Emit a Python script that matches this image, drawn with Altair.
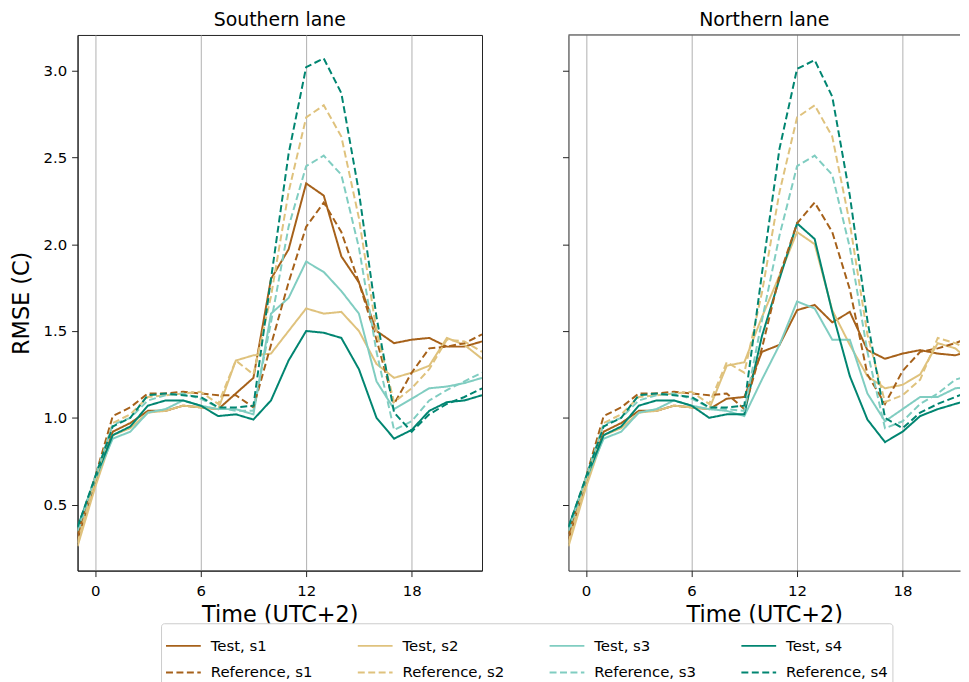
import altair as alt
import pandas as pd

hours = list(range(-1, 23))
lanes = ["Southern lane", "Northern lane"]
series_names = ["Test, s1", "Test, s2", "Test, s3", "Test, s4",
                "Reference, s1", "Reference, s2", "Reference, s3", "Reference, s4"]
palette = ["#a6611a", "#dfc27d", "#80cdc1", "#018571"]

# Southern lane
south_test_s1 = [0.30, 0.62, 0.92, 0.97, 1.04, 1.04, 1.07, 1.06, 1.05, 1.14, 1.23, 1.80, 1.97, 2.35, 2.28, 1.93, 1.78, 1.50, 1.43, 1.45, 1.46, 1.41, 1.41, 1.44]
south_test_s2 = [0.26, 0.60, 0.90, 0.94, 1.03, 1.04, 1.07, 1.06, 1.05, 1.33, 1.36, 1.37, 1.50, 1.63, 1.60, 1.61, 1.50, 1.31, 1.23, 1.26, 1.30, 1.46, 1.42, 1.34]
south_test_s3 = [0.34, 0.64, 0.88, 0.92, 1.03, 1.05, 1.10, 1.07, 1.05, 1.05, 1.02, 1.60, 1.69, 1.90, 1.84, 1.73, 1.60, 1.21, 1.05, 1.11, 1.17, 1.18, 1.20, 1.23]
south_test_s4 = [0.37, 0.65, 0.90, 0.95, 1.07, 1.10, 1.10, 1.07, 1.01, 1.02, 0.99, 1.10, 1.33, 1.50, 1.49, 1.46, 1.28, 1.00, 0.88, 0.93, 1.04, 1.09, 1.10, 1.13]
south_ref_s1 = [0.33, 0.66, 1.01, 1.06, 1.14, 1.14, 1.15, 1.14, 1.13, 1.13, 1.06, 1.42, 1.78, 2.10, 2.24, 2.07, 1.78, 1.45, 1.08, 1.26, 1.40, 1.41, 1.43, 1.48]
south_ref_s2 = [0.28, 0.64, 0.97, 1.02, 1.12, 1.13, 1.14, 1.15, 1.08, 1.33, 1.25, 1.70, 2.30, 2.73, 2.80, 2.62, 2.15, 1.50, 1.09, 1.17, 1.28, 1.45, 1.44, 1.38]
south_ref_s3 = [0.35, 0.66, 0.96, 1.00, 1.10, 1.13, 1.14, 1.11, 1.06, 1.04, 1.04, 1.55, 2.10, 2.45, 2.51, 2.40, 1.98, 1.38, 0.93, 0.98, 1.10, 1.16, 1.21, 1.26]
south_ref_s4 = [0.37, 0.66, 0.95, 1.00, 1.13, 1.14, 1.13, 1.12, 1.06, 1.06, 1.07, 1.80, 2.52, 3.02, 3.07, 2.87, 2.30, 1.58, 1.03, 0.92, 1.02, 1.08, 1.12, 1.17]

# Northern lane
north_test_s1 = [0.30, 0.62, 0.92, 0.97, 1.04, 1.04, 1.07, 1.06, 1.05, 1.11, 1.12, 1.38, 1.42, 1.62, 1.65, 1.55, 1.61, 1.39, 1.34, 1.37, 1.39, 1.37, 1.36, 1.39]
north_test_s2 = [0.26, 0.60, 0.90, 0.94, 1.03, 1.04, 1.07, 1.06, 1.05, 1.30, 1.32, 1.58, 1.82, 2.07, 2.00, 1.62, 1.42, 1.24, 1.17, 1.19, 1.25, 1.43, 1.40, 1.31]
north_test_s3 = [0.34, 0.64, 0.88, 0.92, 1.03, 1.05, 1.10, 1.07, 1.05, 1.04, 1.01, 1.22, 1.42, 1.67, 1.63, 1.45, 1.45, 1.14, 0.98, 1.05, 1.12, 1.12, 1.17, 1.18]
north_test_s4 = [0.37, 0.65, 0.90, 0.95, 1.07, 1.10, 1.10, 1.07, 1.00, 1.02, 1.02, 1.47, 1.80, 2.12, 2.03, 1.61, 1.24, 0.99, 0.86, 0.92, 1.01, 1.05, 1.08, 1.11]
north_ref_s1 = [0.33, 0.66, 1.01, 1.06, 1.14, 1.14, 1.15, 1.14, 1.13, 1.14, 1.05, 1.40, 1.82, 2.12, 2.24, 2.07, 1.74, 1.25, 1.08, 1.27, 1.38, 1.40, 1.43, 1.47]
north_ref_s2 = [0.28, 0.64, 0.97, 1.02, 1.12, 1.13, 1.14, 1.15, 1.08, 1.32, 1.26, 1.72, 2.30, 2.73, 2.80, 2.62, 2.12, 1.48, 1.09, 1.13, 1.22, 1.46, 1.43, 1.38]
north_ref_s3 = [0.35, 0.66, 0.96, 1.00, 1.10, 1.13, 1.14, 1.11, 1.06, 1.05, 1.04, 1.56, 2.05, 2.45, 2.51, 2.40, 1.98, 1.38, 0.94, 0.98, 1.08, 1.14, 1.22, 1.25]
north_ref_s4 = [0.37, 0.66, 0.95, 1.00, 1.13, 1.14, 1.13, 1.12, 1.06, 1.06, 1.07, 1.83, 2.55, 3.01, 3.06, 2.85, 2.28, 1.56, 1.00, 0.94, 1.03, 1.08, 1.12, 1.16]

south = [south_test_s1, south_test_s2, south_test_s3, south_test_s4,
         south_ref_s1, south_ref_s2, south_ref_s3, south_ref_s4]
north = [north_test_s1, north_test_s2, north_test_s3, north_test_s4,
         north_ref_s1, north_ref_s2, north_ref_s3, north_ref_s4]

rows = []
for lane, block in zip(lanes, [south, north]):
    for name, vals in zip(series_names, block):
        for h, v in zip(hours, vals):
            rows.append({"lane": lane, "series": name, "hour": h, "rmse": v})
df = pd.DataFrame(rows)

colors = palette + palette
dashes = [[1, 0]] * 4 + [[7, 3.5]] * 4

FONT = "DejaVu Sans"
FRAME = "#222222"

W_LEFT = 407
W_RIGHT = 394          # right panel runs off the edge of the figure, as in the source
PX_PER_HOUR = W_LEFT / 23.0
X_MAX_RIGHT = -1 + W_RIGHT / PX_PER_HOUR
H = 539

legend = alt.Legend(
    title=None, orient="none", legendX=84, legendY=592, columns=4,
    direction="horizontal",
    symbolType="stroke", symbolSize=1225, symbolStrokeWidth=2,
    labelFont=FONT, labelFontSize=15, labelColor="black", labelOffset=9,
    strokeColor="#cccccc", fillColor="white", padding=4, cornerRadius=3,
    columnPadding=41, rowPadding=-20,
)

color_enc = alt.Color("series:N", scale=alt.Scale(domain=series_names, range=colors),
                      sort=series_names, legend=legend)
dash_enc = alt.StrokeDash("series:N", scale=alt.Scale(domain=series_names, range=dashes),
                          sort=series_names, legend=legend)

yvals = [0.5, 1.0, 1.5, 2.0, 2.5, 3.0]
ydom = [0.12, 3.205]


def title(t):
    return alt.TitleParams(t, font=FONT, fontSize=19, fontWeight="normal",
                           color="black", offset=5)


def lines(lane, first, xmax):
    y_axis = (alt.Axis(values=yvals, format=".1f", title="RMSE (C)", grid=False,
                       domainColor=FRAME)
              if first else
              alt.Axis(values=yvals, labels=False, title=None, grid=False,
                       domainColor=FRAME))
    return alt.Chart(df[df.lane == lane]).mark_line(strokeWidth=2, clip=True).encode(
        x=alt.X("hour:Q", scale=alt.Scale(domain=[-1, xmax], nice=False, zero=False),
                axis=alt.Axis(values=[0, 6, 12, 18], title="Time (UTC+2)", grid=True,
                              gridColor="#b0b0b0", gridWidth=1, domainColor=FRAME)),
        y=alt.Y("rmse:Q", scale=alt.Scale(domain=ydom, nice=False, zero=False),
                axis=y_axis),
        color=color_enc,
        strokeDash=dash_enc,
        detail="series:N",
    )


left = lines(lanes[0], True, 22).properties(width=W_LEFT, height=H, title=title(lanes[0]))

top_border = alt.Chart(pd.DataFrame({"k": [0]})).mark_rule(
    color=FRAME, strokeWidth=1
).encode(x=alt.value(0), x2=alt.value(W_RIGHT), y=alt.value(0))

right = alt.layer(lines(lanes[1], False, X_MAX_RIGHT), top_border).properties(
    width=W_RIGHT, height=H, title=title(lanes[1]),
    view=alt.ViewConfig(stroke="transparent"),
)

chart = alt.hconcat(left, right, spacing=79).properties(
    padding={"left": 1, "top": 0, "right": 0, "bottom": 0},
).configure_view(
    stroke=FRAME, strokeWidth=1,
).configure_axis(
    labelFont=FONT, labelFontSize=15, labelColor="black",
    titleFont=FONT, titleFontSize=22.5, titleFontWeight="normal", titleColor="black",
    tickColor=FRAME, tickSize=6, labelPadding=7, titlePadding=5,
).configure_axisY(labelPadding=5, titlePadding=10)

chart.save("out.html", embed_options={"renderer": "svg", "actions": False})
